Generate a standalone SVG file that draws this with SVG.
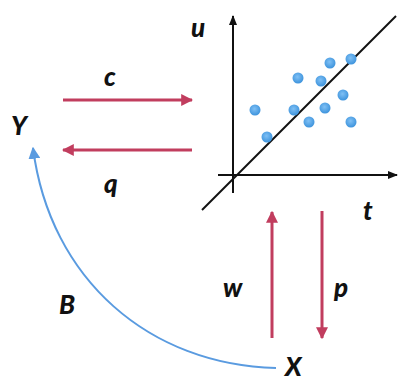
<svg xmlns="http://www.w3.org/2000/svg" width="398" height="381" viewBox="0 0 398 381">
<style>
.lbl{font-family:Lato,"Open Sans","Liberation Sans",sans-serif;font-weight:900;font-style:italic;font-size:26px;fill:#111}
.red{stroke:#c13d5e;stroke-width:3;fill:none}
.ax{stroke:#111;stroke-width:2;fill:none}
.dot{fill:url(#dg)}
</style>
<defs>
<radialGradient id="dg" cx="0.45" cy="0.4" r="0.6"><stop offset="0" stop-color="#7fc0f5"/><stop offset="1" stop-color="#3d93dc"/></radialGradient>
<marker id="ar" viewBox="0 0 10 10" refX="9" refY="5" markerWidth="4" markerHeight="4" orient="auto" markerUnits="strokeWidth"><path d="M0,0L10,5L0,10z" fill="#c13d5e"/></marker>
<marker id="ab" viewBox="0 0 10 10" refX="9" refY="5" markerWidth="6" markerHeight="6" orient="auto" markerUnits="strokeWidth"><path d="M0,0L10,5L0,10z" fill="#5a9be0"/></marker>
<marker id="ak" viewBox="0 0 10 10" refX="9" refY="5" markerWidth="5" markerHeight="5" orient="auto" markerUnits="strokeWidth"><path d="M0,1L10,5L0,9z" fill="#111"/></marker>
</defs>
<g id="plot">
<line class="ax" x1="233" y1="193" x2="233" y2="16" marker-end="url(#ak)"/>
<line class="ax" x1="218" y1="175" x2="397" y2="175" marker-end="url(#ak)"/>
<line class="ax" x1="202" y1="210" x2="396" y2="16"/>
<circle class="dot" cx="255" cy="110" r="5.5"/>
<circle class="dot" cx="267" cy="137" r="5.5"/>
<circle class="dot" cx="298" cy="78" r="5.5"/>
<circle class="dot" cx="294" cy="110" r="5.5"/>
<circle class="dot" cx="309" cy="122" r="5.5"/>
<circle class="dot" cx="321" cy="81" r="5.5"/>
<circle class="dot" cx="330" cy="63" r="5.5"/>
<circle class="dot" cx="325" cy="108" r="5.5"/>
<circle class="dot" cx="343" cy="95" r="5.5"/>
<circle class="dot" cx="351" cy="59" r="5.5"/>
<circle class="dot" cx="351" cy="122" r="5.5"/>
<text class="lbl" x="191" y="37">u</text>
<text class="lbl" x="363" y="220">t</text>
</g>
<g id="Y"><text class="lbl" x="11" y="135">Y</text></g>
<g id="X"><text class="lbl" x="285" y="376">X</text></g>
<g id="connectors">
<line class="red" x1="63" y1="100" x2="192" y2="100" marker-end="url(#ar)"/>
<line class="red" x1="192" y1="150" x2="63" y2="150" marker-end="url(#ar)"/>
<line class="red" x1="272" y1="338" x2="272" y2="212" marker-end="url(#ar)"/>
<line class="red" x1="322" y1="211" x2="322" y2="338" marker-end="url(#ar)"/>
<path d="M276 368 C150 365 50 280 33 148" stroke="#5a9be0" stroke-width="2" fill="none" marker-end="url(#ab)"/>
<text class="lbl" x="104" y="86">c</text>
<text class="lbl" x="104" y="193">q</text>
<text class="lbl" x="223" y="297">w</text>
<text class="lbl" x="334" y="297">p</text>
<text class="lbl" x="59" y="314">B</text>
</g>
</svg>
